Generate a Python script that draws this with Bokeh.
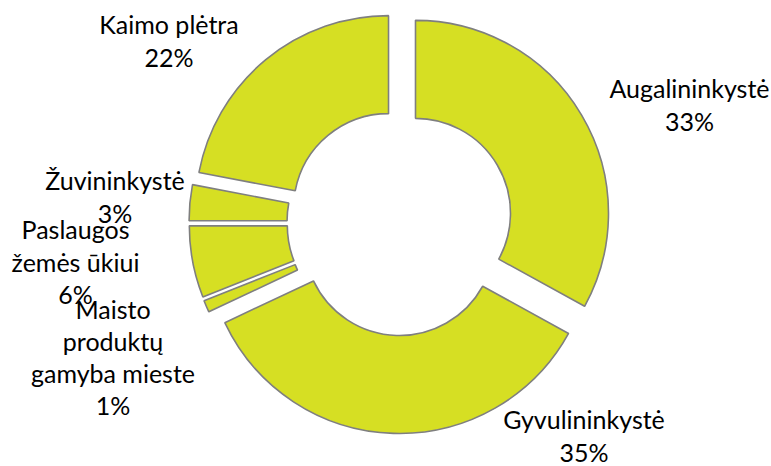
import numpy as np
from bokeh.plotting import figure
from bokeh.models import ColumnDataSource, Range1d
from bokeh.core.properties import value
from bokeh.embed import file_html
from bokeh.resources import INLINE

# ---- data ----
categories = ["Augalininkystė", "Gyvulininkystė", "Maisto produktų gamyba mieste",
              "Paslaugos žemės ūkiui", "Žuvininkystė", "Kaimo plėtra"]
label_text = ["Augalininkystė", "Gyvulininkystė", "Maisto\nproduktų\ngamyba mieste",
              "Paslaugos\nžemės ūkiui", "Žuvininkystė", "Kaimo plėtra"]
shares = [33, 35, 1, 6, 3, 22]

# ---- layout ----
W, H = 771, 466
CX, CY = 399.5, H - 222
R_OUT, R_IN, EXPLODE = 193, 95, 18
# label block centres (picture coords)
label_pos_img = [(689, 104), (583.5, 435), (112.5, 356.5), (75, 261), (114.5, 196), (168.5, 40)]

vals = np.array(shares, dtype=float)
frac = vals / vals.sum()
cum_end = np.cumsum(frac)
cum_start = cum_end - frac
start = np.pi / 2 - 2 * np.pi * cum_start
end = np.pi / 2 - 2 * np.pi * cum_end
mid = (start + end) / 2
xs = CX + EXPLODE * np.cos(mid)
ys = CY + EXPLODE * np.sin(mid)

src = ColumnDataSource(dict(x=xs, y=ys, start=start, end=end, cat=categories))

p = figure(width=W, height=H, output_backend="svg", toolbar_location=None,
           x_range=Range1d(0, W), y_range=Range1d(0, H), min_border=0)
p.axis.visible = False
p.grid.visible = False
p.outline_line_color = None
p.background_fill_color = "white"

p.annular_wedge(x="x", y="y", inner_radius=R_IN, outer_radius=R_OUT,
                start_angle="start", end_angle="end", direction="clock",
                fill_color="#d6df23", line_color="#7f7f7f", line_width=1.6,
                source=src)

texts = [f"{t}\n{int(v)}%" for t, v in zip(label_text, shares)]
lx = [px for px, py in label_pos_img]
ly = [H - py for px, py in label_pos_img]
p.text(x=lx, y=ly, text=texts, text_align="center", text_baseline="middle",
       text_font=value("Lato"), text_font_size="25px", text_color="#000000",
       text_line_height=1.075)

open("out.html", "w").write(file_html(p, INLINE))
